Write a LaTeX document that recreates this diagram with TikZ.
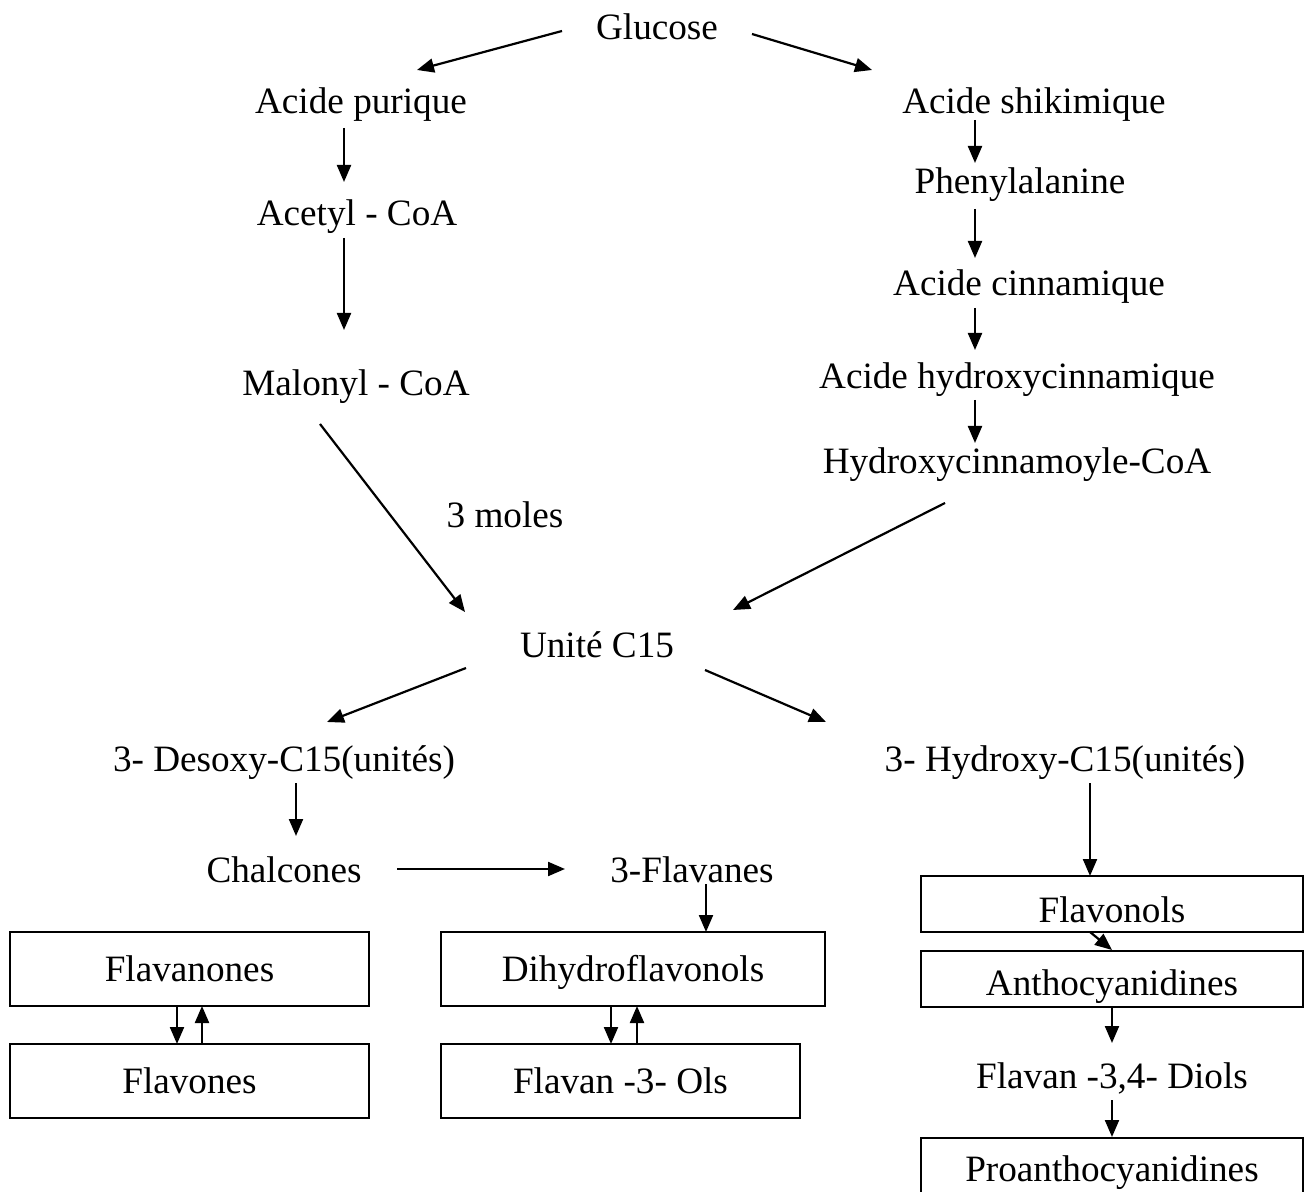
\documentclass[tikz,border=0pt]{standalone}
\usepackage{fontspec}
\setmainfont{Liberation Serif}
\usetikzlibrary{arrows.meta,calc}

\begin{document}
\begin{tikzpicture}[x=0.5pt,y=-0.5pt,
	lbl/.style={inner sep=0pt,text height=12.3pt,text depth=0pt,font=\fontsize{18.6}{22}\selectfont},
	bx/.style={lbl,draw,line width=1pt},
	arr/.style={line width=1.1pt,-{Triangle[length=8.5pt,width=7pt]}}]
	\useasboundingbox (0,0) rectangle (1308,1192);
	% left branch
	\node[lbl] (glucose) at (657,27) {Glucose};
	\node[lbl] (purique) at (361,101) {Acide purique};
	\node[lbl] (acetyl) at (357,213) {Acetyl - CoA};
	\node[lbl] (malonyl) at (356,383) {Malonyl - CoA};
	\node[lbl] (moles) at (505,515) {3 moles};
	% right branch
	\node[lbl] (shikimique) at (1034,101) {Acide shikimique};
	\node[lbl] (phenyl) at (1020,181) {Phenylalanine};
	\node[lbl] (cinnamique) at (1029,283) {Acide cinnamique};
	\node[lbl] (hcinnamique) at (1017,376) {Acide hydroxycinnamique};
	\node[lbl] (hcoa) at (1017,461) {Hydroxycinnamoyle-CoA};
	% C15
	\node[lbl] (unite) at (597,645) {Unité C15};
	\node[lbl] (desoxy) at (284,759) {3- Desoxy-C15(unités)};
	\node[lbl] (hydroxy) at (1065,759) {3- Hydroxy-C15(unités)};
	\node[lbl] (chalcones) at (284,870) {Chalcones};
	\node[lbl] (flavanes) at (692,870) {3-Flavanes};
	% boxes
	\node[bx,minimum width=179.5pt,minimum height=37pt] (flavanones) at (189.5,969) {Flavanones};
	\node[bx,minimum width=179.5pt,minimum height=37pt] (flavones) at (189.5,1081) {Flavones};
	\node[bx,minimum width=192pt,minimum height=37pt] (dihydro) at (633,969) {Dihydroflavonols};
	\node[bx,minimum width=179.5pt,minimum height=37pt] (flavanols) at (620.5,1081) {Flavan -3- Ols};
	\node[bx,minimum width=191pt,minimum height=28pt,text height=18pt] (flavonols) at (1112,904) {Flavonols};
	\node[bx,minimum width=191pt,minimum height=28pt,text height=16.5pt] (antho) at (1112,979) {Anthocyanidines};
	\node[lbl] (diols) at (1112,1076) {Flavan -3,4- Diols};
	\node[bx,minimum width=191pt,minimum height=31pt] (proantho) at (1112,1169) {Proanthocyanidines};

	\draw[arr] ($(glucose)+(-95,4)$) -- ($(purique)+(56,-31)$);
	\draw[arr] ($(glucose)+(95,7)$) -- ($(shikimique)+(-162,-31)$);
	\draw[arr] ($(purique)+(-17,27)$) -- ($(acetyl)+(-13,-31)$);
	\draw[arr] ($(acetyl)+(-13,25)$) -- ($(malonyl)+(-12,-53)$);
	\draw[arr] ($(shikimique)+(-59,19)$) -- ($(phenyl)+(-45,-18)$);
	\draw[arr] ($(phenyl)+(-45,28)$) -- ($(cinnamique)+(-54,-25)$);
	\draw[arr] ($(cinnamique)+(-54,25)$) -- ($(hcinnamique)+(-42,-26)$);
	\draw[arr] ($(hcinnamique)+(-42,24)$) -- ($(hcoa)+(-42,-18)$);
	\draw[arr] ($(malonyl)+(-36,41)$) -- ($(unite)+(-132,-33)$);
	\draw[arr] ($(hcoa)+(-72,42)$) -- ($(unite)+(136,-35)$);
	\draw[arr] ($(unite)+(-131,23)$) -- ($(desoxy)+(43,-37)$);
	\draw[arr] ($(unite)+(108,25)$) -- ($(hydroxy)+(-239,-37)$);
	\draw[arr] ($(desoxy)+(12,24)$) -- ($(chalcones)+(12,-34)$);
	\draw[arr] ($(chalcones)+(113,-1)$) -- ($(flavanes)+(-127,-1)$);
	\draw[arr] ($(flavanes)+(14,14)$) -- ($(dihydro)+(73,-37)$);
	\draw[arr] ($(hydroxy)+(25,24)$) -- ($(flavonols)+(-22,-28)$);
	\draw[arr] ($(flavonols)+(-22,28)$) -- (antho.north);
	\draw[arr] (antho.south) -- ($(diols)+(0,-33)$);
	\draw[arr] ($(diols)+(0,24)$) -- (proantho.north);
	% reversible steps
	\draw[arr] ($(flavanones)+(-12.5,37)$) -- ($(flavones)+(-12.5,-37)$);
	\draw[arr] ($(flavones)+(12.5,-37)$) -- ($(flavanones)+(12.5,37)$);
	\draw[arr] ($(dihydro)+(-22,37)$) -- ($(flavanols)+(-9.5,-37)$);
	\draw[arr] ($(flavanols)+(16.5,-37)$) -- ($(dihydro)+(4,37)$);
\end{tikzpicture}
\end{document}
